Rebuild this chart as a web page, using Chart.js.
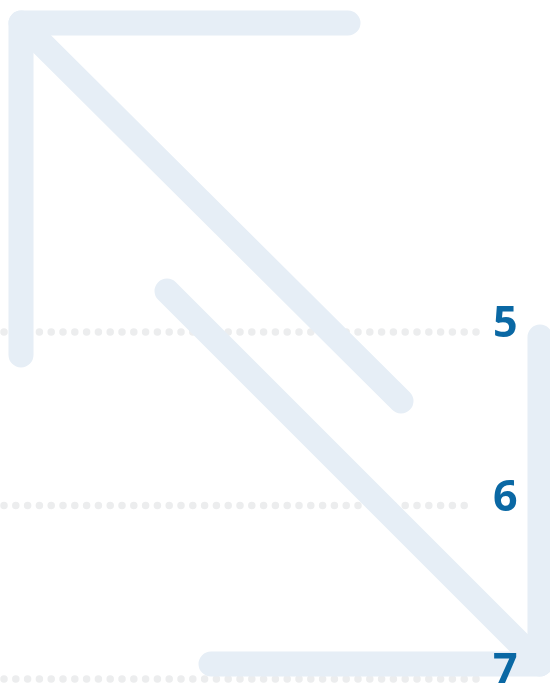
<!DOCTYPE html>
<html>
<head>
<meta charset="utf-8">
<script src="https://cdn.jsdelivr.net/npm/chart.js@4"></script>
<style>
  html, body { margin: 0; padding: 0; background: #ffffff; overflow: hidden; }
  #steps-chart { display: block; }
</style>
</head>
<body>
<canvas id="steps-chart" width="550" height="683"></canvas>
<script>
// step numbers and the row each one sits on
const stepLabels = ['5', '6', '7'];
const stepRows = [332, 505.5, 679];
const rowEnds = [487, 476, 482];
const rowStart = 4;

// the two arrows, as polylines in the same units
const upLeftFrame = [{ x: 21, y: 355 }, { x: 21, y: 23 }, { x: 348, y: 23 }];
const upLeftShaft = [{ x: 21, y: 23 }, { x: 401, y: 401 }];
const downRightShaft = [{ x: 167, y: 291 }, { x: 540, y: 664 }];
const downRightFrame = [{ x: 540, y: 337 }, { x: 540, y: 664 }, { x: 211, y: 664 }];

const arrowColor = 'rgb(230, 238, 246)';
const dotColor = 'rgb(236, 237, 238)';
const labelColor = 'rgb(10, 104, 164)';

const arrowDataset = (data) => ({
    data: data,
    showLine: true,
    borderColor: arrowColor,
    borderWidth: 25,
    borderCapStyle: 'round',
    borderJoinStyle: 'round',
    pointRadius: 0,
    clip: false
});

const rowDatasets = stepRows.map((y, i) => ({
    data: [{ x: rowStart, y: y }, { x: rowEnds[i], y: y }],
    showLine: true,
    borderColor: dotColor,
    borderWidth: 7.5,
    borderDash: [0, 11.8],
    borderCapStyle: 'round',
    pointRadius: 0,
    clip: false
}));

const stepNumbers = {
    id: 'stepNumbers',
    afterDatasetsDraw(chart) {
        const { ctx, scales } = chart;
        ctx.save();
        ctx.fillStyle = labelColor;
        ctx.font = 'bold 43px "Open Sans"';
        ctx.textAlign = 'left';
        ctx.textBaseline = 'alphabetic';
        stepLabels.forEach((label, i) => {
            ctx.fillText(label, scales.x.getPixelForValue(493), scales.y.getPixelForValue(stepRows[i] + 5));
        });
        ctx.restore();
    }
};

const ctx = document.getElementById('steps-chart').getContext('2d');

new Chart(ctx, {
    type: 'scatter',
    data: {
        datasets: [
            arrowDataset(upLeftFrame),
            arrowDataset(upLeftShaft),
            arrowDataset(downRightShaft),
            arrowDataset(downRightFrame),
            ...rowDatasets
        ]
    },
    options: {
        responsive: false,
        animation: false,
        events: [],
        layout: { padding: 0 },
        plugins: {
            legend: { display: false },
            tooltip: { enabled: false }
        },
        scales: {
            x: { type: 'linear', min: 0, max: 550, display: false },
            y: { type: 'linear', min: 0, max: 683, reverse: true, display: false }
        }
    },
    plugins: [stepNumbers]
});
</script>
</body>
</html>
